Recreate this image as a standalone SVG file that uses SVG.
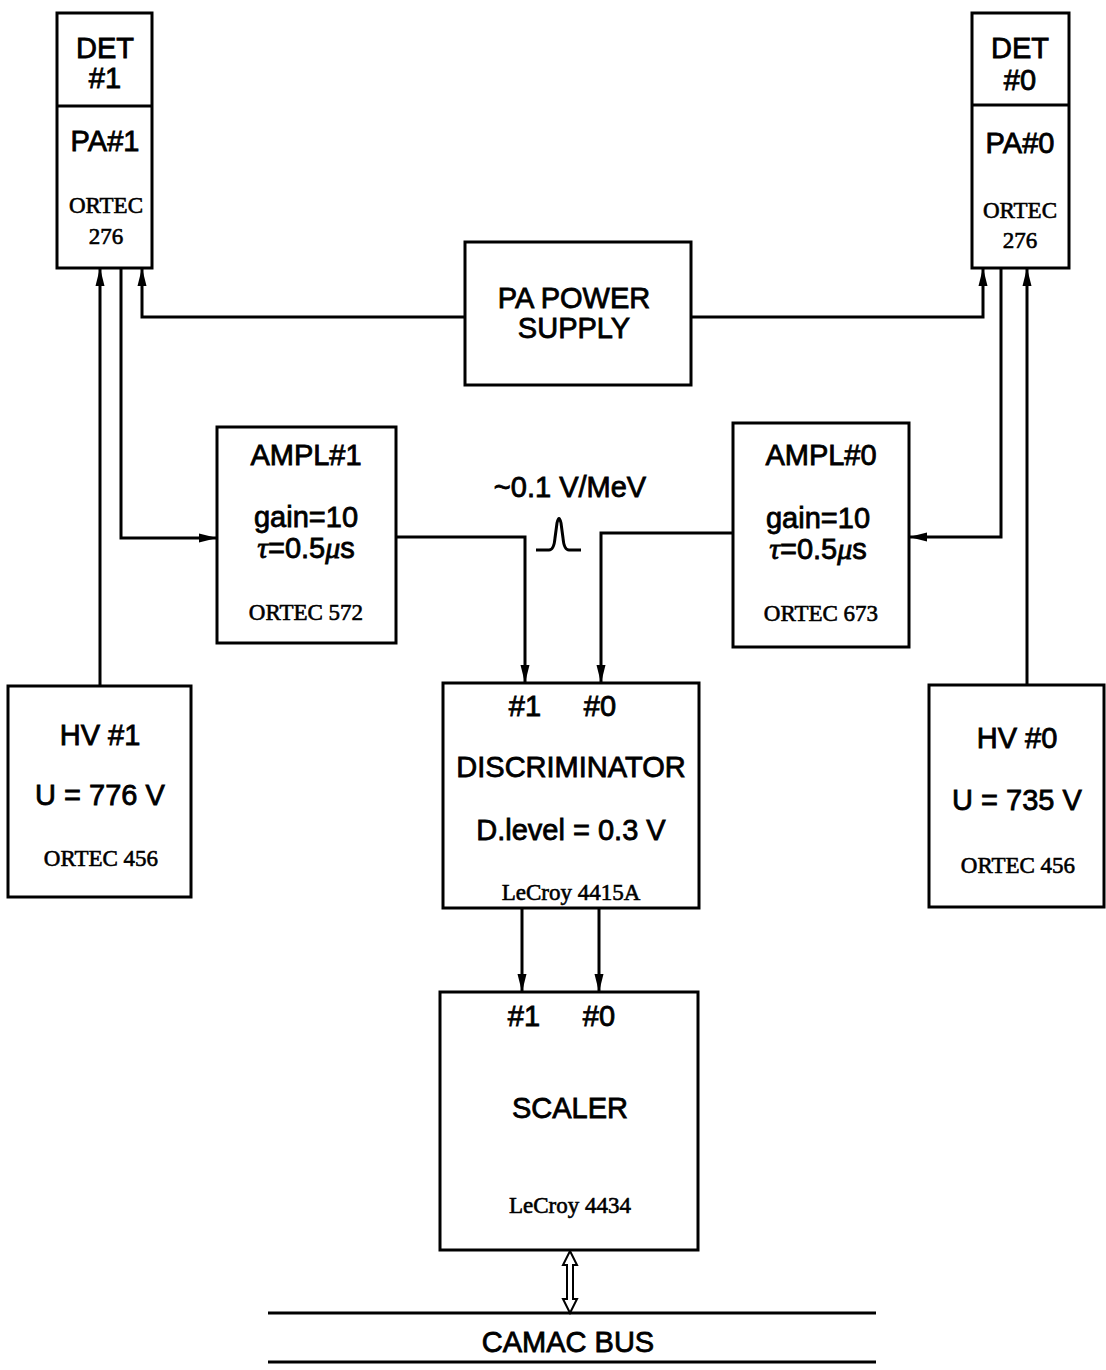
<svg xmlns="http://www.w3.org/2000/svg" width="1106" height="1370" viewBox="0 0 1106 1370">
<defs>
<style>
.box{fill:#fff;stroke:#000;stroke-width:3}
.ln{fill:none;stroke:#000;stroke-width:3}
.s{font-family:"Liberation Sans",Arial,sans-serif;font-size:29px;fill:#000;stroke:#000;stroke-width:0.8;text-anchor:middle}
.r{font-family:"Liberation Serif","Times New Roman",serif;font-size:23px;fill:#000;stroke:#000;stroke-width:0.6;text-anchor:middle}
.g{font-family:"Liberation Serif","Times New Roman",serif;font-style:italic;font-size:30px}
</style>
<marker id="ah" viewBox="0 0 18 10" refX="18" refY="5" markerWidth="18" markerHeight="10" markerUnits="userSpaceOnUse" orient="auto">
<path d="M0,0.5 L18,5 L0,9.5 Z" fill="#000"/>
</marker>
</defs>
<rect width="1106" height="1370" fill="#fff"/>
<g id="connectors">
<path class="ln" d="M100,686 L100,268" marker-end="url(#ah)"/>
<path class="ln" d="M465,317 L142,317 L142,268" marker-end="url(#ah)"/>
<path class="ln" d="M121,268 L121,538 L217,538" marker-end="url(#ah)"/>
<path class="ln" d="M1027,685 L1027,268" marker-end="url(#ah)"/>
<path class="ln" d="M691,317 L983,317 L983,268" marker-end="url(#ah)"/>
<path class="ln" d="M1001,268 L1001,537 L909,537" marker-end="url(#ah)"/>
<path class="ln" d="M396,537 L525,537 L525,683" marker-end="url(#ah)"/>
<path class="ln" d="M733,533 L601,533 L601,683" marker-end="url(#ah)"/>
<path class="ln" d="M522,908 L522,992" marker-end="url(#ah)"/>
<path class="ln" d="M599,908 L599,992" marker-end="url(#ah)"/>
<path fill="#fff" stroke="#000" stroke-width="2" d="M570,1251 L577,1265 L573,1265 L573,1299 L577,1299 L570,1313 L563,1299 L567,1299 L567,1265 L563,1265 Z"/>
<path class="ln" stroke-width="2.5" d="M536,550 L549,550 Q554,550 555,538 L557,523 Q559,514 561,523 L563,538 Q564,550 569,550 L581,550"/>
</g>
<g id="det1">
<rect class="box" x="57" y="13" width="95" height="255"/>
<line class="ln" x1="57" y1="106" x2="152" y2="106"/>
<text class="s" x="105" y="58">DET</text>
<text class="s" x="105" y="88">#1</text>
<text class="s" x="105" y="151">PA#1</text>
<text class="r" x="106" y="213">ORTEC</text>
<text class="r" x="106" y="244">276</text>
</g>
<g id="det0">
<rect class="box" x="972" y="13" width="97" height="255"/>
<line class="ln" x1="972" y1="105" x2="1069" y2="105"/>
<text class="s" x="1020" y="58">DET</text>
<text class="s" x="1020" y="90">#0</text>
<text class="s" x="1020" y="153">PA#0</text>
<text class="r" x="1020" y="218">ORTEC</text>
<text class="r" x="1020" y="248">276</text>
</g>
<g id="papower">
<rect class="box" x="465" y="242" width="226" height="143"/>
<text class="s" x="574" y="308">PA POWER</text>
<text class="s" x="574" y="338">SUPPLY</text>
</g>
<g id="ampl1">
<rect class="box" x="217" y="427" width="179" height="216"/>
<text class="s" x="306" y="465">AMPL#1</text>
<text class="s" x="306" y="527">gain=10</text>
<text class="s" x="306" y="558"><tspan class="g">τ</tspan>=0.5<tspan class="g">μ</tspan>s</text>
<text class="r" x="306" y="620">ORTEC 572</text>
</g>
<g id="ampl0">
<rect class="box" x="733" y="423" width="176" height="224"/>
<text class="s" x="821" y="465">AMPL#0</text>
<text class="s" x="818" y="528">gain=10</text>
<text class="s" x="818" y="559"><tspan class="g">τ</tspan>=0.5<tspan class="g">μ</tspan>s</text>
<text class="r" x="821" y="621">ORTEC 673</text>
</g>
<text id="pulse-label" class="s" x="570" y="497">~0.1 V/MeV</text>
<g id="hv1">
<rect class="box" x="8" y="686" width="183" height="211"/>
<text class="s" x="100" y="745">HV #1</text>
<text class="s" x="100" y="805">U = 776 V</text>
<text class="r" x="101" y="866">ORTEC 456</text>
</g>
<g id="hv0">
<rect class="box" x="929" y="685" width="175" height="222"/>
<text class="s" x="1017" y="748">HV #0</text>
<text class="s" x="1017" y="810">U = 735 V</text>
<text class="r" x="1018" y="873">ORTEC 456</text>
</g>
<g id="discriminator">
<rect class="box" x="443" y="683" width="256" height="225"/>
<text class="s" x="525" y="716">#1</text>
<text class="s" x="600" y="716">#0</text>
<text class="s" x="571" y="777">DISCRIMINATOR</text>
<text class="s" x="571" y="840">D.level = 0.3 V</text>
<text class="r" x="571" y="900">LeCroy 4415A</text>
</g>
<g id="scaler">
<rect class="box" x="440" y="992" width="258" height="258"/>
<text class="s" x="524" y="1026">#1</text>
<text class="s" x="599" y="1026">#0</text>
<text class="s" x="570" y="1118">SCALER</text>
<text class="r" x="570" y="1213">LeCroy 4434</text>
</g>
<g id="camac">
<line class="ln" stroke-width="2.5" x1="268" y1="1313" x2="876" y2="1313"/>
<line class="ln" stroke-width="3.5" x1="268" y1="1362" x2="876" y2="1362"/>
<text class="s" x="568" y="1352">CAMAC BUS</text>
</g>
</svg>
